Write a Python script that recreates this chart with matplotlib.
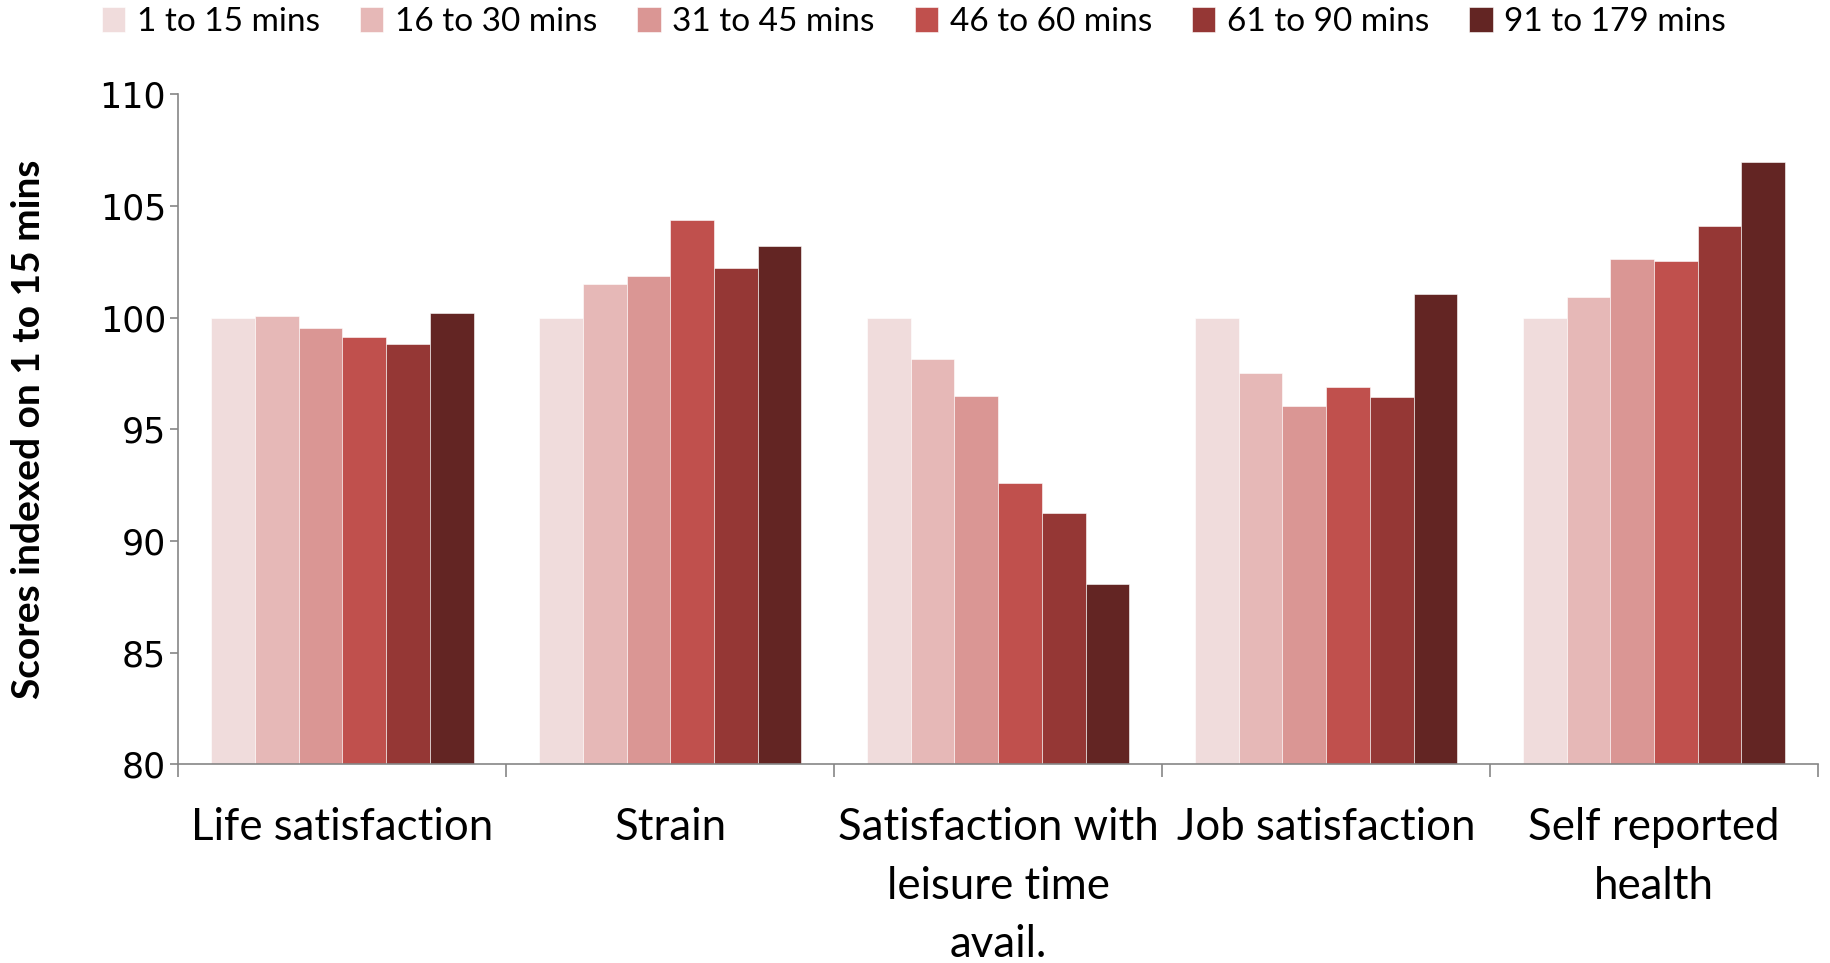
import numpy as np
import matplotlib.pyplot as plt
from matplotlib.ticker import FixedLocator, NullFormatter

categories = ['Life satisfaction', 'Strain', 'Satisfaction with\nleisure time\navail.',
              'Job satisfaction', 'Self reported\nhealth']
series = ['1 to 15 mins', '16 to 30 mins', '31 to 45 mins',
          '46 to 60 mins', '61 to 90 mins', '91 to 179 mins']
colors = ['#F0DCDC', '#E6B8B7', '#DA9694', '#C0504D', '#953735', '#632523']

mins_1_15 = [100.0, 100.0, 100.0, 100.0, 100.0]
mins_16_30 = [100.07, 101.52, 98.15, 97.52, 100.94]
mins_31_45 = [99.54, 101.88, 96.52, 96.07, 102.63]
mins_46_60 = [99.12, 104.39, 92.61, 96.88, 102.54]
mins_61_90 = [98.82, 102.22, 91.27, 96.45, 104.12]
mins_91_179 = [100.22, 103.22, 88.06, 101.07, 106.96]
values = [mins_1_15, mins_16_30, mins_31_45, mins_46_60, mins_61_90, mins_91_179]

fig = plt.figure(figsize=(18.3, 9.63), dpi=100)
ax = fig.add_axes([0.0975, 0.2062, 0.8959, 0.6957])

x = np.arange(len(categories))
width = 0.8 / len(series)
for i, (name, vals) in enumerate(zip(series, values)):
    ax.bar(x - 0.4 + width * (i + 0.5), np.array(vals) - 80, width, bottom=80,
           color=colors[i], edgecolor='white', linewidth=0.4, label=name)

ax.set_xlim(-0.5, len(categories) - 0.5)
ax.set_ylim(80, 110)
ax.set_yticks(np.arange(80, 111, 5))

# category boundaries get the tick marks, labels sit at the centres
ax.xaxis.set_major_locator(FixedLocator(np.arange(-0.5, len(categories), 1.0)))
ax.xaxis.set_major_formatter(NullFormatter())
ax.xaxis.set_minor_locator(FixedLocator(x))
ax.set_xticklabels(categories, minor=True, fontsize=31.5, family='Lato', linespacing=1.53)
ax.tick_params(axis='x', which='major', direction='out', length=9, color='#868686', width=1.2)
ax.tick_params(axis='x', which='minor', length=0, pad=31)
ax.tick_params(axis='y', direction='out', length=6, color='#868686', width=1.2,
               labelsize=25, pad=3)

for side in ['top', 'right']:
    ax.spines[side].set_visible(False)
for side in ['left', 'bottom']:
    ax.spines[side].set_color('#868686')
    ax.spines[side].set_linewidth(1.2)

ax.set_ylabel('Scores indexed on 1 to 15 mins', fontsize=28, family='Lato',
              fontweight='bold')
ax.yaxis.set_label_coords(-0.0805, 0.5)

fig.legend(loc='center', bbox_to_anchor=(0.4995, 0.977), ncol=6, frameon=False,
           prop={'family': 'Lato', 'size': 24}, handlelength=0.7, handleheight=0.8,
           handletextpad=0.35, columnspacing=1.2, borderaxespad=0)

fig.savefig('out.png', dpi=100)
